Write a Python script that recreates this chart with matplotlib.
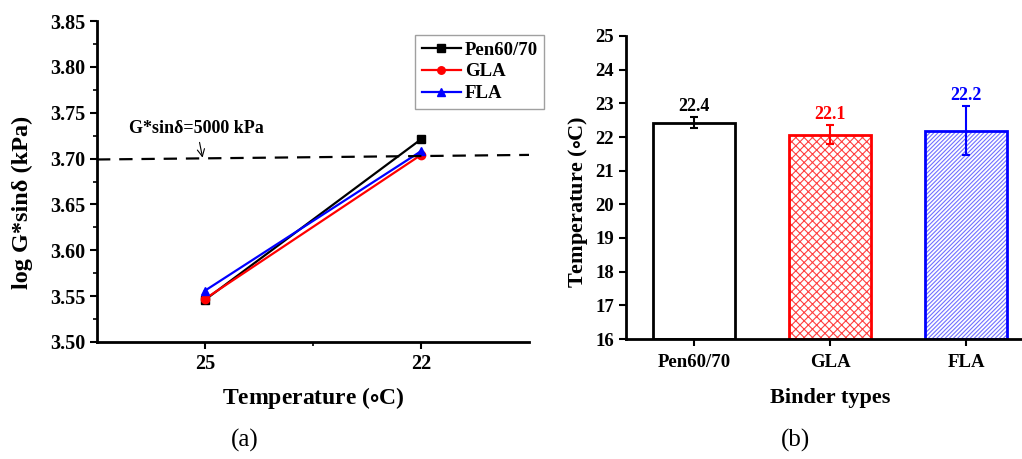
import numpy as np
import matplotlib
matplotlib.use("Agg")
import matplotlib.pyplot as plt

plt.rcParams['font.family'] = ['Liberation Serif', 'DejaVu Serif']
plt.rcParams['font.weight'] = 'bold'
plt.rcParams['mathtext.fontset'] = 'stix'
plt.rcParams['hatch.linewidth'] = 0.8

# -----------------------------
# data
# -----------------------------
temps = ["25", "22"]
pen_logg = [3.546, 3.721]
gla_logg = [3.547, 3.704]
fla_logg = [3.556, 3.708]
limit_line = [3.699, 3.704]

binders = ["Pen60/70", "GLA", "FLA"]
fail_temp = [22.43, 22.07, 22.19]
fail_err = [0.15, 0.28, 0.72]
fail_lbl = ["22.4", "22.1", "22.2"]
colors = ["black", "red", "blue"]

fig = plt.figure(figsize=(10.22, 4.59), dpi=100)

# -----------------------------
# (a) log G*sin(delta) vs temperature
# -----------------------------
ax1 = fig.add_axes([97 / 1022, 117 / 459, 432 / 1022, 321 / 459])
x = np.arange(1, len(temps) + 1)
ax1.plot(x, pen_logg, color="black", marker="s", ms=6, lw=1.6, label="Pen60/70")
ax1.plot(x, gla_logg, color="red", marker="o", ms=6, lw=1.6, label="GLA")
ax1.plot(x, fla_logg, color="blue", marker="^", ms=6, lw=1.6, label="FLA")
ax1.plot([0.5, 2.5], limit_line, color="black", ls=(0, (6, 4)), lw=1.6)
ax1.annotate("G*sinδ=5000 kPa", xy=(0.99, 3.6995), xytext=(0.65, 3.728),
             fontsize=13, fontweight="bold",
             arrowprops=dict(arrowstyle="->", color="black", lw=0.8,
                             shrinkA=2, shrinkB=1))

ax1.set_xlim(0.5, 2.5)
ax1.set_ylim(3.50, 3.85)
ax1.set_xticks(x)
ax1.set_xticklabels(temps)
ax1.set_xticks([1.5], minor=True)
ax1.set_yticks(np.arange(3.50, 3.851, 0.05))
ax1.set_yticks(np.arange(3.525, 3.85, 0.05), minor=True)
ax1.yaxis.set_major_formatter(matplotlib.ticker.FormatStrFormatter("%.2f"))
ax1.set_xlabel("Temperature ($\\circ$C)", fontsize=17, fontweight="bold", labelpad=8)
ax1.set_ylabel("log G*sinδ (kPa)", fontsize=17.5, fontweight="bold")
ax1.yaxis.set_label_coords(-0.148, 0.436)
ax1.tick_params(which="major", labelsize=14.5, width=1.5, length=5)
ax1.tick_params(which="minor", width=1.2, length=3)
for s in ["top", "right"]:
    ax1.spines[s].set_visible(False)
for s in ["left", "bottom"]:
    ax1.spines[s].set_linewidth(2)

leg = ax1.legend(loc="upper left", bbox_to_anchor=(415 / 1022, 1 - 35 / 459),
                 bbox_transform=fig.transFigure, borderaxespad=0,
                 prop={"size": 13.5, "weight": "bold"}, frameon=True,
                 fancybox=False, edgecolor="#888888", handlelength=2.1,
                 borderpad=0.35, labelspacing=0.25, handletextpad=0.2,
                 markerscale=0.9)
leg.get_frame().set_linewidth(1.0)

# -----------------------------
# (b) failure temperature per binder
# -----------------------------
ax2 = fig.add_axes([626 / 1022, 120 / 459, 408 / 1022, 303 / 459])
xb = np.arange(1, len(binders) + 1)
hatches = [None, "xxxx", "////////"]
hatch_cols = ["black", "#ff4040", "#7070ff"]
for i in range(len(binders)):
    if hatches[i]:
        ax2.bar(xb[i], fail_temp[i] - 16, bottom=16, width=0.6, color="white",
                edgecolor=hatch_cols[i], hatch=hatches[i], lw=0)
    ax2.bar(xb[i], fail_temp[i] - 16, bottom=16, width=0.6, fill=False,
            edgecolor=colors[i], lw=2)
    ax2.errorbar(xb[i], fail_temp[i], yerr=fail_err[i], color=colors[i],
                 capsize=3, lw=1.5, capthick=1.5)
    ax2.text(xb[i], fail_temp[i] + fail_err[i] + 0.08, fail_lbl[i],
             color=colors[i], ha="center", va="bottom", fontsize=13,
             fontweight="bold")

ax2.set_xlim(0.5, 3.5)
ax2.set_ylim(16, 25)
ax2.set_xticks(xb)
ax2.set_xticklabels(binders)
ax2.set_yticks(np.arange(16, 26, 1))
ax2.set_xlabel("Binder types", fontsize=16, fontweight="bold", labelpad=12)
ax2.set_ylabel("Temperature ($\\circ$C)", fontsize=16, fontweight="bold")
ax2.yaxis.set_label_coords(-0.088, 0.452)
ax2.tick_params(labelsize=13.5, width=1.5, length=5)
ax2.tick_params(axis="x", pad=6)
for s in ["top", "right"]:
    ax2.spines[s].set_visible(False)
for s in ["left", "bottom"]:
    ax2.spines[s].set_linewidth(2)

fig.text(245 / 1022, 1 - 440 / 459, "(a)", ha="center", va="center",
         fontsize=18, fontweight="normal")
fig.text(795 / 1022, 1 - 440 / 459, "(b)", ha="center", va="center",
         fontsize=18, fontweight="normal")

fig.savefig("out.png", dpi=100)
